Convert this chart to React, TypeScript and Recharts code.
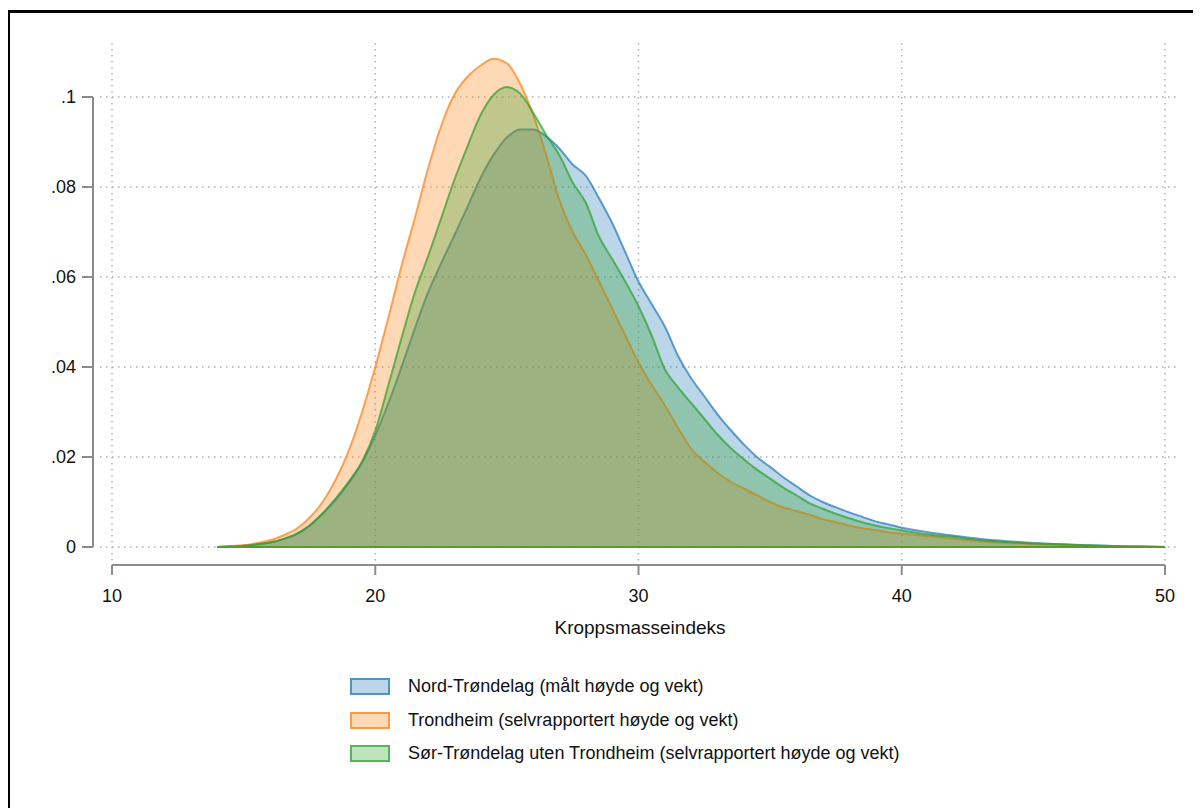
import React from "react";
import { AreaChart, Area, XAxis, YAxis, CartesianGrid, ReferenceLine, Legend } from "recharts";

// Kernel density of BMI, three regions
const bmi = [
  14, 14.5, 15, 15.5, 16, 16.5, 17, 17.5, 18, 18.5, 19, 19.5, 20, 20.5, 21, 21.5, 22, 22.5, 23, 23.5,
  24, 24.5, 25, 25.5, 26, 26.5, 27, 27.5, 28, 28.5, 29, 29.5, 30, 30.5, 31, 31.5, 32, 32.5, 33, 33.5,
  34, 34.5, 35, 35.5, 36, 36.5, 37, 37.5, 38, 38.5, 39, 39.5, 40, 41, 42, 43, 44, 45, 46, 47, 48, 49, 50,
];

const nordTrondelag = [
  0, 0.0001, 0.0003, 0.0006, 0.001, 0.0017, 0.0028, 0.0047, 0.0074, 0.0105, 0.0143, 0.0188, 0.0248, 0.032, 0.04, 0.0485, 0.0565, 0.063, 0.0692, 0.0755,
  0.082, 0.0872, 0.091, 0.0928, 0.0928, 0.0912, 0.0885, 0.085, 0.0825, 0.0775, 0.072, 0.0655, 0.059, 0.054, 0.049, 0.0425, 0.0375, 0.0335, 0.0295, 0.026,
  0.0228, 0.02, 0.0178, 0.0155, 0.0135, 0.0115, 0.01, 0.0088, 0.0077, 0.0067, 0.0057, 0.005, 0.0043, 0.0033, 0.0025, 0.0018, 0.0013, 0.0009, 0.0006, 0.0004, 0.0002, 0.0001, 0,
];

const trondheim = [
  0, 0.0002, 0.0004, 0.0009, 0.0015, 0.0026, 0.004, 0.0065, 0.01, 0.015, 0.0215, 0.03, 0.04, 0.051, 0.0625, 0.073, 0.084, 0.0935, 0.1005, 0.1045,
  0.107, 0.1085, 0.1075, 0.103, 0.096, 0.087, 0.077, 0.07, 0.065, 0.059, 0.053, 0.047, 0.041, 0.036, 0.0315, 0.0265, 0.0218, 0.019, 0.0165, 0.0145,
  0.013, 0.0115, 0.01, 0.0088, 0.008, 0.0072, 0.0062, 0.0055, 0.0048, 0.0042, 0.0038, 0.0033, 0.003, 0.0024, 0.0018, 0.0012, 0.0009, 0.0007, 0.0005, 0.0003, 0.0002, 0.0001, 0,
];

const sorTrondelag = [
  0, 0.0001, 0.0003, 0.0006, 0.001, 0.0018, 0.0029, 0.0048, 0.0075, 0.0108, 0.0146, 0.019, 0.0258, 0.036, 0.0465, 0.0565, 0.0645, 0.073, 0.0815, 0.089,
  0.096, 0.1005, 0.1022, 0.1008, 0.0965, 0.0915, 0.087, 0.081, 0.0765, 0.069, 0.064, 0.059, 0.0535, 0.047, 0.0395, 0.0355, 0.032, 0.0285, 0.025, 0.022,
  0.0195, 0.0172, 0.0152, 0.0132, 0.0115, 0.0097, 0.0085, 0.0074, 0.0064, 0.0055, 0.0048, 0.0042, 0.0037, 0.0028, 0.0022, 0.0015, 0.0011, 0.0008, 0.0006, 0.0004, 0.0002, 0.0001, 0,
];

const xTicks = [10, 20, 30, 40, 50];
const yTicks = [0, 0.02, 0.04, 0.06, 0.08, 0.1];

const series = [
  { key: "nord", name: "Nord-Trøndelag (målt høyde og vekt)", color: "#1f77b4" },
  { key: "trondheim", name: "Trondheim (selvrapportert høyde og vekt)", color: "#ff7f0e" },
  { key: "sor", name: "Sør-Trøndelag uten Trondheim (selvrapportert høyde og vekt)", color: "#2ca02c" },
];

const data = bmi.map((x, i) => ({
  bmi: x,
  nord: nordTrondelag[i],
  trondheim: trondheim[i],
  sor: sorTrondelag[i],
}));

// plot region is a bit wider than the tick range, like Stata's graph region
const X_DOMAIN = [9.544, 50.57];
const Y_DOMAIN = [-0.00333, 0.112];
const AXIS_X = 9.278; // y axis line sits left of the plot region
const AXIS_Y = -0.004; // x axis line sits below it

const FONT = "'Liberation Sans', Arial, sans-serif";
const AXIS_GREY = "#8c8c8c";

const fmtY = (v: number) => (v === 0 ? "0" : String(v).replace(/^0/, ""));

const XTick = ({ x, y, payload }: any) => (
  <g>
    <line x1={x} x2={x} y1={y + 3} y2={y + 13} stroke={AXIS_GREY} strokeWidth={2} />
    <text x={x} y={y + 40} textAnchor="middle" fontSize={18} fontFamily={FONT} fill="#111">
      {payload.value}
    </text>
  </g>
);

const YTick = ({ x, y, payload }: any) => (
  <g>
    <line x1={x - 18} x2={x - 7} y1={y} y2={y} stroke={AXIS_GREY} strokeWidth={2} />
    <text x={x - 24} y={y} dy="0.36em" textAnchor="end" fontSize={18} fontFamily={FONT} fill="#111">
      {fmtY(payload.value)}
    </text>
  </g>
);

const renderLegend = () => (
  <div style={{ fontFamily: FONT, fontSize: 18, color: "#111" }}>
    {series.map((s) => (
      <div key={s.key} style={{ display: "flex", alignItems: "center", height: 33.5 }}>
        <span
          style={{
            display: "inline-block",
            boxSizing: "border-box",
            width: 40,
            height: 17,
            background: s.color + "4d",
            border: `2px solid ${s.color}b3`,
            marginRight: 18,
          }}
        />
        <span>{s.name}</span>
      </div>
    ))}
  </div>
);

export default function App() {
  return (
    <div style={{ position: "relative", width: 1193, height: 800 }}>
      <div
        style={{
          position: "absolute",
          left: -1,
          top: 2,
          width: 1200,
          height: 810,
          border: "3px solid #000",
          boxSizing: "border-box",
        }}
      />
      <AreaChart
        width={1193}
        height={800}
        data={data}
        margin={{ top: 35, right: 21, left: 0, bottom: 166 }}
        style={{ position: "absolute", left: 0, top: 0 }}
      >
        <CartesianGrid stroke="#b0b0b0" strokeWidth={1.5} strokeDasharray="1.5 4.5" syncWithTicks />
        <XAxis
          dataKey="bmi"
          type="number"
          domain={X_DOMAIN}
          ticks={xTicks}
          allowDataOverflow
          height={80}
          axisLine={false}
          tickLine={false}
          tickSize={0}
          tickMargin={0}
          tick={<XTick />}
          label={{
            value: "Kroppsmasseindeks",
            position: "insideBottom",
            offset: 8,
            fontSize: 19,
            fontFamily: FONT,
            fill: "#111",
          }}
        />
        <YAxis
          type="number"
          domain={Y_DOMAIN}
          ticks={yTicks}
          allowDataOverflow
          width={92}
          axisLine={false}
          tickLine={false}
          tickSize={0}
          tickMargin={0}
          tick={<YTick />}
        />
        {series.map((s) => (
          <Area
            key={s.key}
            type="monotone"
            dataKey={s.key}
            name={s.name}
            baseValue={0}
            stroke={s.color}
            strokeOpacity={0.7}
            strokeWidth={2}
            fill={s.color}
            fillOpacity={0.3}
            dot={false}
            activeDot={false}
            isAnimationActive={false}
          />
        ))}
        {series.map((s) => (
          <ReferenceLine
            key={`base-${s.key}`}
            segment={[
              { x: 14, y: 0 },
              { x: 50, y: 0 },
            ]}
            stroke={s.color}
            strokeOpacity={0.7}
            strokeWidth={2}
            ifOverflow="visible"
          />
        ))}
        <ReferenceLine
          segment={[
            { x: 10, y: AXIS_Y },
            { x: 50, y: AXIS_Y },
          ]}
          stroke={AXIS_GREY}
          strokeWidth={2}
          ifOverflow="visible"
        />
        <ReferenceLine
          segment={[
            { x: AXIS_X, y: 0 },
            { x: AXIS_X, y: 0.1 },
          ]}
          stroke={AXIS_GREY}
          strokeWidth={2}
          ifOverflow="visible"
        />
        <Legend
          layout="horizontal"
          verticalAlign="middle"
          align="center"
          content={renderLegend}
          wrapperStyle={{ left: 342, top: 662, width: 800 }}
        />
      </AreaChart>
    </div>
  );
}
